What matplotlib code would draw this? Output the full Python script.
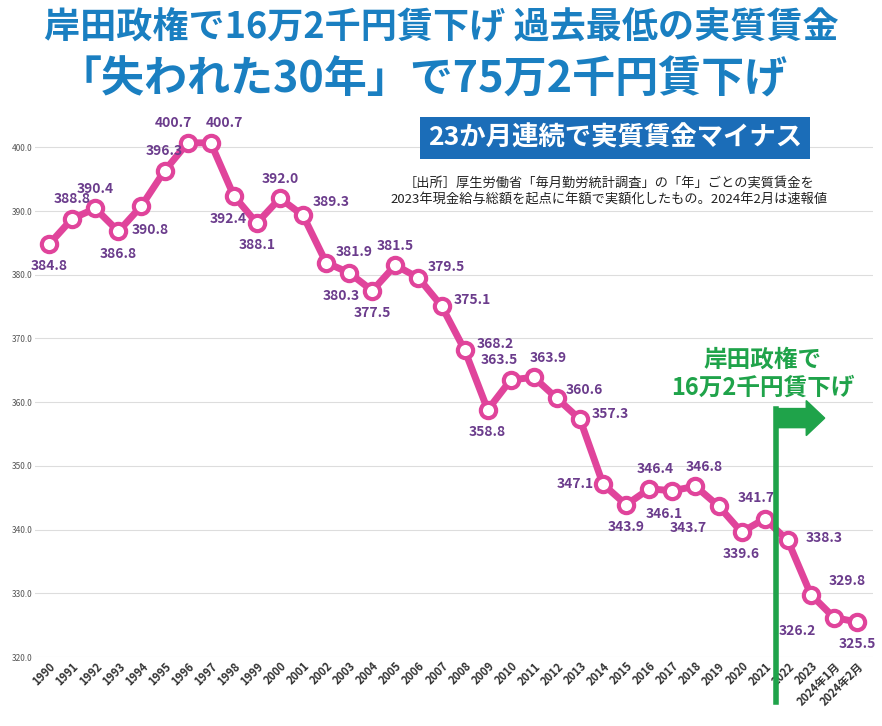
import matplotlib
matplotlib.use("Agg")
import matplotlib.pyplot as plt
from matplotlib.patches import FancyArrow

plt.rcParams['font.family'] = ['Noto Sans CJK JP', 'DejaVu Sans']

# 実質賃金（万円）
etiquetas = [str(y) for y in range(1990, 2024)] + ['2024年1月', '2024年2月']
valores = [384.8, 388.8, 390.4, 386.8, 390.8, 396.3, 400.7, 400.7, 392.4, 388.1,
           392.0, 389.3, 381.9, 380.3, 377.5, 381.5, 379.5, 375.1, 368.2, 358.8,
           363.5, 363.9, 360.6, 357.3, 347.1, 343.9, 346.4, 346.1, 346.8, 343.7,
           339.6, 341.7, 338.3, 329.8, 326.2, 325.5]
# ラベルの位置 (dx, dy) ポイント
offs = [(0, -16), (0, 14), (0, 14), (0, -16), (6, -17), (0, 14), (-10, 14), (10, 14),
        (-4, -17), (0, -16), (0, 14), (20, 10), (20, 8), (-6, -17), (0, -16), (0, 14),
        (20, 8), (22, 4), (22, 4), (0, -16), (-8, 14), (10, 14), (20, 6), (22, 4),
        (-20, 0), (0, -16), (4, 14), (-6, -17), (6, 14), (-22, -16), (0, -16),
        (-6, 15), (26, 2), (26, 10), (-26, -10), (0, -16)]

fig = plt.figure(figsize=(8.82, 7.26), dpi=100)
ax = fig.add_axes([0.04, 0.095, 0.95, 0.753])
x = list(range(len(valores)))
ax.plot(x, valores, color='#e0449b', lw=5, marker='o', ms=11,
        mfc='white', mec='#e0449b', mew=3, zorder=3)
for i, v in enumerate(valores):
    dx, dy = offs[i]
    ax.annotate(f'{v:.1f}', (i, v), xytext=(dx, dy), textcoords='offset points',
                ha='center', va='center', fontsize=10, fontweight='bold',
                color='#6b3c8c', zorder=4)

ax.set_ylim(320, 405.8)
ax.set_xlim(-0.6, len(valores) - 0.3)
ax.set_yticks(range(320, 401, 10))
ax.set_yticklabels([f'{t:.1f}' for t in range(320, 401, 10)], fontsize=6, color='#555555')
ax.set_xticks(x)
ax.set_xticklabels(etiquetas, rotation=45, ha='right', rotation_mode='anchor',
                   fontsize=8, fontweight='bold', color='#333333')
ax.grid(axis='y', color='#dddddd', lw=0.8)
ax.set_axisbelow(True)
for s in ax.spines.values():
    s.set_visible(False)
ax.tick_params(length=0, pad=2)

# 岸田政権
ax.plot([31.5, 31.5], [313, 359], color='#1fa34a', lw=4, clip_on=False, zorder=5)
ax.add_patch(FancyArrow(31.5, 357.5, 1.3, 0, width=3, head_width=5.5, head_length=0.8,
                        color='#1fa34a', length_includes_head=False, zorder=5))
fig.text(0.865, 0.485, '岸田政権で\n16万2千円賃下げ', ha='center', va='center',
         fontsize=17, fontweight='bold', color='#1fa34a', linespacing=1.2)

fig.text(0.5, 0.962, '岸田政権で16万2千円賃下げ 過去最低の実質賃金', ha='center', va='center',
         fontsize=26, fontweight='bold', color='#1a7fc1')
fig.text(0.48, 0.89, '「失われた30年」で75万2千円賃下げ', ha='center', va='center',
         fontsize=31, fontweight='bold', color='#1a7fc1')
fig.text(0.697, 0.81, '23か月連続で実質賃金マイナス', ha='center', va='center',
         fontsize=19, fontweight='bold', color='white',
         bbox=dict(boxstyle='square,pad=0.3', fc='#1b6db8', ec='none'))
fig.text(0.69, 0.735, '［出所］厚生労働省「毎月勤労統計調査」の「年」ごとの実質賃金を\n'
         '2023年現金給与総額を起点に年額で実額化したもの。2024年2月は速報値',
         ha='center', va='center', fontsize=9.5, color='#222222', linespacing=1.3)

fig.savefig('out.png', dpi=100)
